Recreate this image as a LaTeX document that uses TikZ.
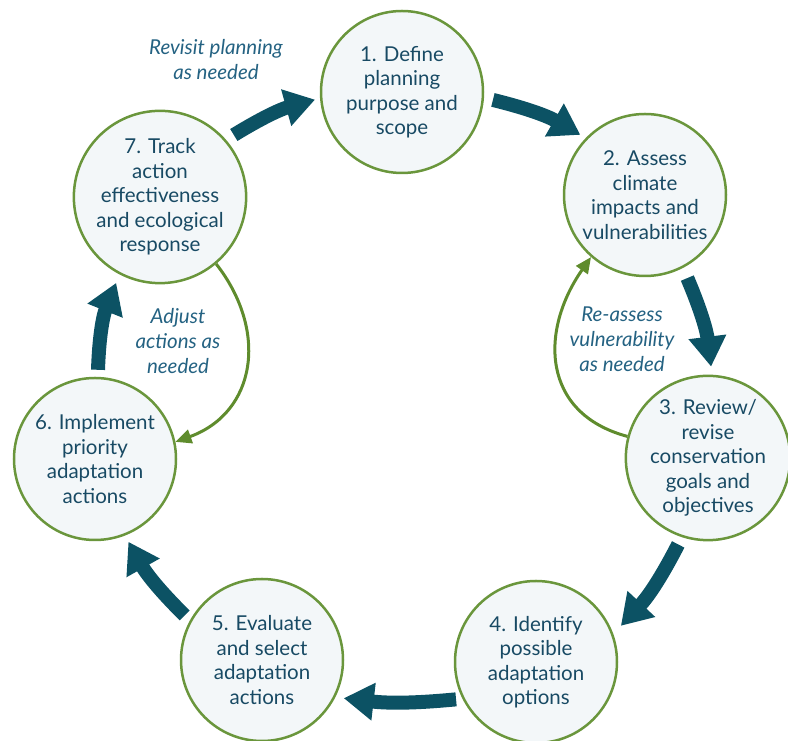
\documentclass[tikz,border=0pt]{standalone}
\usepackage{fontspec}
\setmainfont{Lato}
\usetikzlibrary{arrows.meta}
\definecolor{cteal}{RGB}{12,82,100}
\definecolor{cgreen}{RGB}{106,150,60}
\definecolor{cfill}{RGB}{243,247,249}
\definecolor{ctext}{RGB}{24,74,100}
\definecolor{clabel}{RGB}{36,98,130}
\definecolor{carrowg}{RGB}{95,140,45}
\begin{document}
\begin{tikzpicture}[x=1pt,y=1pt,
  stage/.style={circle, draw=cgreen, line width=2.5pt, fill=cfill, minimum size=162pt, inner sep=0pt, text=ctext, align=center, font=\fontsize{20.5}{24.5}\selectfont},
  note/.style={text=clabel, align=center, font=\fontsize{20.5}{25}\selectfont\itshape},
  bigarrow/.style={draw=cteal, line width=14pt, -{Triangle[width=36pt,length=30pt]}},
  smallarrow/.style={draw=carrowg, line width=3pt, -{Triangle[width=14pt,length=16pt]}}]
\useasboundingbox (0,0) rectangle (788,741);
\node[stage] (n1) at (402,649) {1. Define\\planning\\purpose and\\scope};
\node[stage] (n2) at (645,546) {2. Assess\\climate\\impacts and\\vulnerabilities};
\node[stage] (n3) at (708,283) {3. Review/\\revise\\conservation\\goals and\\objectives};
\node[stage] (n4) at (536,79) {4. Identify\\possible\\adaptation\\options};
\node[stage] (n5) at (262,81) {5. Evaluate\\and select\\adaptation\\actions};
\node[stage] (n6) at (95,282) {6. Implement\\priority\\adaptation\\actions};
\node[stage] (n7) at (160,544) {7. Track\\action\\effectiveness\\and ecological\\response};
\node[note] (l1) at (216,681) {Revisit planning\\as needed};
\node[note] (l2) at (178,400) {Adjust\\actions as\\needed};
\node[note] (l3) at (622,402) {Re-assess\\vulnerability\\as needed};
\draw[bigarrow] ([shift={(-5:9pt)}]n1.-5) to[bend left=8] ([shift={(137.8:6pt)}]n2.137.8);
\draw[bigarrow] ([shift={(-63.2:11pt)}]n2.-63.2) to[bend left=8] ([shift={(88.7:8pt)}]n3.88.7);
\draw[bigarrow] ([shift={(-109.4:8pt)}]n3.-109.4) to[bend left=8] ([shift={(23.8:10pt)}]n4.23.8);
\draw[bigarrow] ([shift={(205.7:6pt)}]n4.205.7) to[bend left=6] ([shift={(-25.7:8pt)}]n5.-25.7);
\draw[bigarrow] ([shift={(150.3:7pt)}]n5.150.3) to[bend left=8] ([shift={(-68.3:7pt)}]n6.-68.3);
\draw[bigarrow] ([shift={(88.7:7pt)}]n6.88.7) to[bend left=10] ([shift={(-117.4:9pt)}]n7.-117.4);
\draw[bigarrow] ([shift={(40.1:9pt)}]n7.40.1) to[bend left=8] ([shift={(185.3:5pt)}]n1.185.3);
\draw[smallarrow] (n3.165) to[out=165,in=-125,looseness=1.25] (n2.-131);
\draw[smallarrow] (n7.-50) to[out=-52,in=20,looseness=1.2] (n6.12);
\end{tikzpicture}
\end{document}
